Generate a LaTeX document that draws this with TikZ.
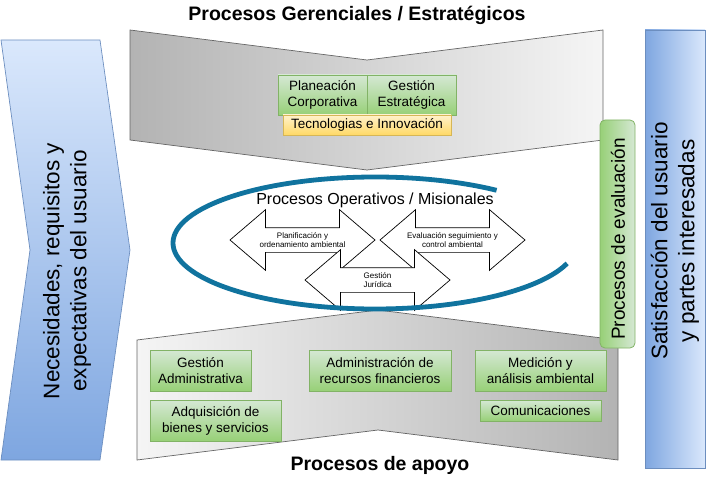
\documentclass[tikz,border=0pt]{standalone}
\usepackage{fontspec}
\setmainfont{Liberation Sans}
\usepackage{xcolor}
\usepackage{tikz}
\usetikzlibrary{shapes,positioning}
\definecolor{gbord}{HTML}{82B366}
\definecolor{gtop}{HTML}{D5E8D4}
\definecolor{gbot}{HTML}{97D077}
\definecolor{ybord}{HTML}{D6B656}
\definecolor{ytop}{HTML}{FFF2CC}
\definecolor{ybot}{HTML}{FFD966}
\definecolor{bbord}{HTML}{6C8EBF}
\definecolor{blight}{HTML}{DAE8FC}
\definecolor{bdark}{HTML}{7EA6E0}
\definecolor{gylight}{HTML}{F5F5F5}
\definecolor{gydark}{HTML}{B3B3B3}
\definecolor{gyline}{HTML}{666666}
\definecolor{orbit}{HTML}{10739E}
\tikzset{gbox/.style={draw=gbord,line width=0.8pt,top color=gtop,bottom color=gbot,align=center,inner sep=0pt,font=\fontsize{13.5}{16}\selectfont},
  ybox/.style={draw=ybord,line width=0.8pt,top color=ytop,bottom color=ybot,inner sep=0pt,font=\fontsize{13.5}{16}\selectfont},
  darr/.style={double arrow,draw,fill=white,line width=0.7pt,inner sep=0pt,text height=12pt,text depth=12pt,minimum height=145pt,double arrow head extend=18pt,double arrow tip angle=81},
  atext/.style={align=center,font=\fontsize{8}{9}\selectfont},
  ttl/.style={font=\bfseries\fontsize{19.5}{23}\selectfont},
  sidetxt/.style={rotate=90,align=center,font=\fontsize{22.5}{27}\selectfont},
  chev/.style={draw=gyline,line width=0.7pt},
  orb/.style={draw=orbit,line width=4.8pt}}

\begin{document}
\begin{tikzpicture}[x=1pt,y=-1pt]
    \useasboundingbox (0,0) rectangle (706,481);

    \draw[chev,left color=gydark,right color=gylight] (130,30) -- (367,60) -- (603,30) -- (603,140) -- (367,170) -- (130,140) -- cycle;
    \draw[chev,left color=gylight,right color=gydark] (137,340) -- (378,310) -- (618,340) -- (618,460) -- (378,430) -- (137,460) -- cycle;
    \draw[draw=bbord,line width=0.7pt,top color=blight,bottom color=bdark] (1,40) -- (100,40) -- (130,250) -- (100,460) -- (1,460) -- (30,250) -- cycle;
    \node[sidetxt] (necs) at (67,271) {Necesidades, requisitos y\\expectativas del usuario};
    \node[draw=bbord,line width=0.7pt,left color=bdark,right color=blight,minimum width=60pt,minimum height=438pt] (satbg) at (675,249) {};
    \node[sidetxt] (sat) at (675,241) {Satisfacción del usuario\\y partes interesadas};

    \node[ttl] (gerhd) at (357,15) {Procesos Gerenciales / Estratégicos};
    \node[ttl] (apohd) at (380,465) {Procesos de apoyo};

    \node[gbox,minimum width=89pt,minimum height=40pt] (plan) at (322.5,95) {Planeación\\Corporativa};
    \node[gbox,minimum width=89pt,minimum height=40pt] (gest) at (411.5,95) {Gestión\\Estratégica};
    \node[ybox,minimum width=168pt,minimum height=20pt] (tec) at (367,125) {Tecnologias e Innovación};

    \node[gbox,minimum width=101pt,minimum height=41pt] (gadm) at (200.5,370.5) {Gestión\\Administrativa};
    \node[gbox,minimum width=131pt,minimum height=41pt] (adq) at (215.5,420.5) {Adquisición de\\bienes y servicios};
    \node[gbox,minimum width=142pt,minimum height=41pt] (admf) at (380,370.5) {Administración de\\recursos financieros};
    \node[gbox,minimum width=131pt,minimum height=41pt] (med) at (540.5,370.5) {Medición y\\análisis ambiental};
    \node[gbox,minimum width=121pt,minimum height=21pt] (com) at (540.5,410.5) {Comunicaciones};

    \node[font=\fontsize{16}{19}\selectfont] (opehd) at (375,200) {Procesos Operativos / Misionales};
    \node[darr] (plaar) at (302.5,240) {};
    \node[darr] (evaar) at (452.5,240) {};
    \node[darr] (jurar) at (377.5,280) {};
    \node[atext] (platx) at (plaar) {Planificación y\\ordenamiento ambiental};
    \node[atext] (evatx) at (evaar) {Evaluación seguimiento y\\control ambiental};
    \node[atext] (jurtx) at (jurar) {Gestión\\Jurídica};

    \draw[orb] (375,243) ++(-53:202 and 66) arc[start angle=-53,end angle=-342,x radius=202,y radius=66];

    \node[draw=gbord,line width=0.8pt,left color=gbot,right color=gtop,rounded corners=5pt,minimum width=35pt,minimum height=228pt] (evabg) at (617.5,234) {};
    \node[rotate=90,font=\fontsize{19}{22}\selectfont] (eval) at (618,239) {Procesos de evaluación};
\end{tikzpicture}
\end{document}
